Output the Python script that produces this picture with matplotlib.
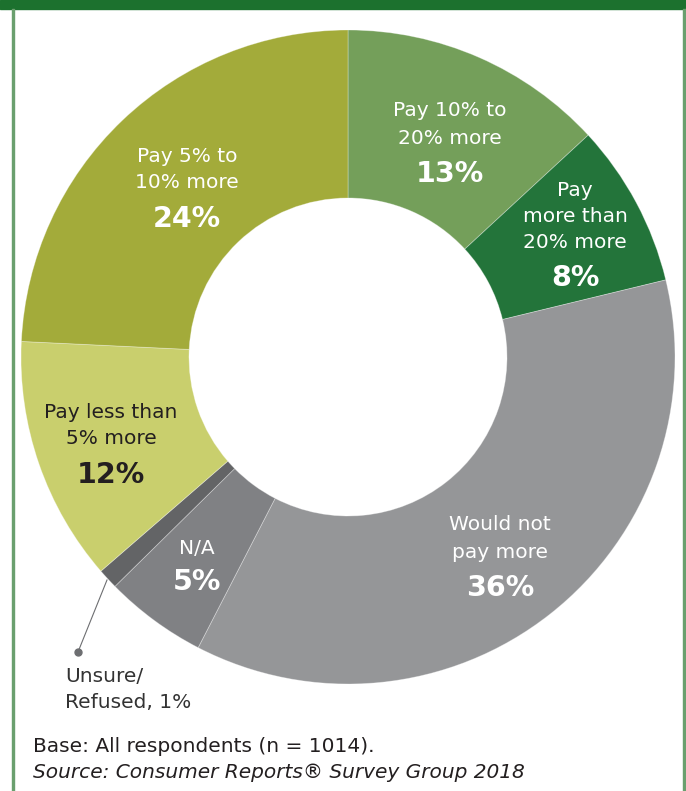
import matplotlib
matplotlib.use("Agg")
import matplotlib.pyplot as plt

# ---- data ----
categories = ["Pay 10% to\n20% more", "Pay\nmore than\n20% more", "Would not\npay more",
              "N/A", "Unsure/\nRefused", "Pay less than\n5% more", "Pay 5% to\n10% more"]
values = [13, 8, 36, 5, 1, 12, 24]
colors = ["#749f5a", "#23743a", "#959698", "#808184", "#636466", "#c9cf6d", "#a3ab3a"]
text_colors = ["white", "white", "white", "white", "#333333", "#231f20", "white"]

W, H = 686, 791
plt.rcParams['font.family'] = ['DejaVu Sans']
fig = plt.figure(figsize=(W / 100, H / 100), dpi=100)
ax = fig.add_axes([0, 0, 1, 1])

cx, cy = 348, H - 357
R, r_in = 327, 159
ax.pie(values, colors=colors, startangle=90, counterclock=False,
       center=(cx, cy), radius=R,
       wedgeprops=dict(width=R - r_in, edgecolor=(1, 1, 1, 0.35), linewidth=0.6))
ax.set_xlim(0, W)
ax.set_ylim(0, H)
ax.set_aspect('equal')
ax.axis('off')

# frame decorations
ax.add_patch(plt.Rectangle((0, H - 9), W, 9, color="#1c712e", zorder=5))
ax.add_patch(plt.Rectangle((11.5, 0), 2.2, H - 9, color="#6a9f6e", zorder=5))
ax.add_patch(plt.Rectangle((682.5, 0), 3.5, H - 9, color="#6a9f6e", zorder=5))

reg = 14.5
big = 20.5

def label(i, x, ys_text, y_pct):
    lines = categories[i].split("\n")
    for ln, yy in zip(lines, ys_text):
        ax.text(x, H - yy, ln, ha='center', va='center', fontsize=reg,
                color=text_colors[i])
    ax.text(x, H - y_pct, f"{values[i]}%", ha='center', va='center', fontsize=big,
            fontweight='bold', color=text_colors[i])

label(0, 450, [111, 138], 174)
label(1, 575, [190, 216, 242], 278)
label(2, 500, [525, 552], 588)
label(3, 197, [548], 582)
label(5, 111, [412, 438], 475)
label(6, 187, [157, 183], 219)

# unsure leader
ax.plot([107, 78], [H - 580, H - 652], color="#6d6e71", lw=0.8, zorder=6)
ax.plot([78], [H - 652], 'o', color="#6d6e71", ms=5, zorder=6)
ax.text(65, H - 677, "Unsure/", ha='left', va='center', fontsize=reg, color="#333333")
ax.text(65, H - 703, f"Refused, {values[4]}%", ha='left', va='center', fontsize=reg,
        color="#333333")

ax.text(33, H - 746, "Base: All respondents (n = 1014).", ha='left', va='center',
        fontsize=reg, color="#231f20")
ax.text(33, H - 773, "Source: Consumer Reports® Survey Group 2018", ha='left',
        va='center', fontsize=reg, style='italic', color="#231f20")

fig.savefig("out.png", dpi=100)
